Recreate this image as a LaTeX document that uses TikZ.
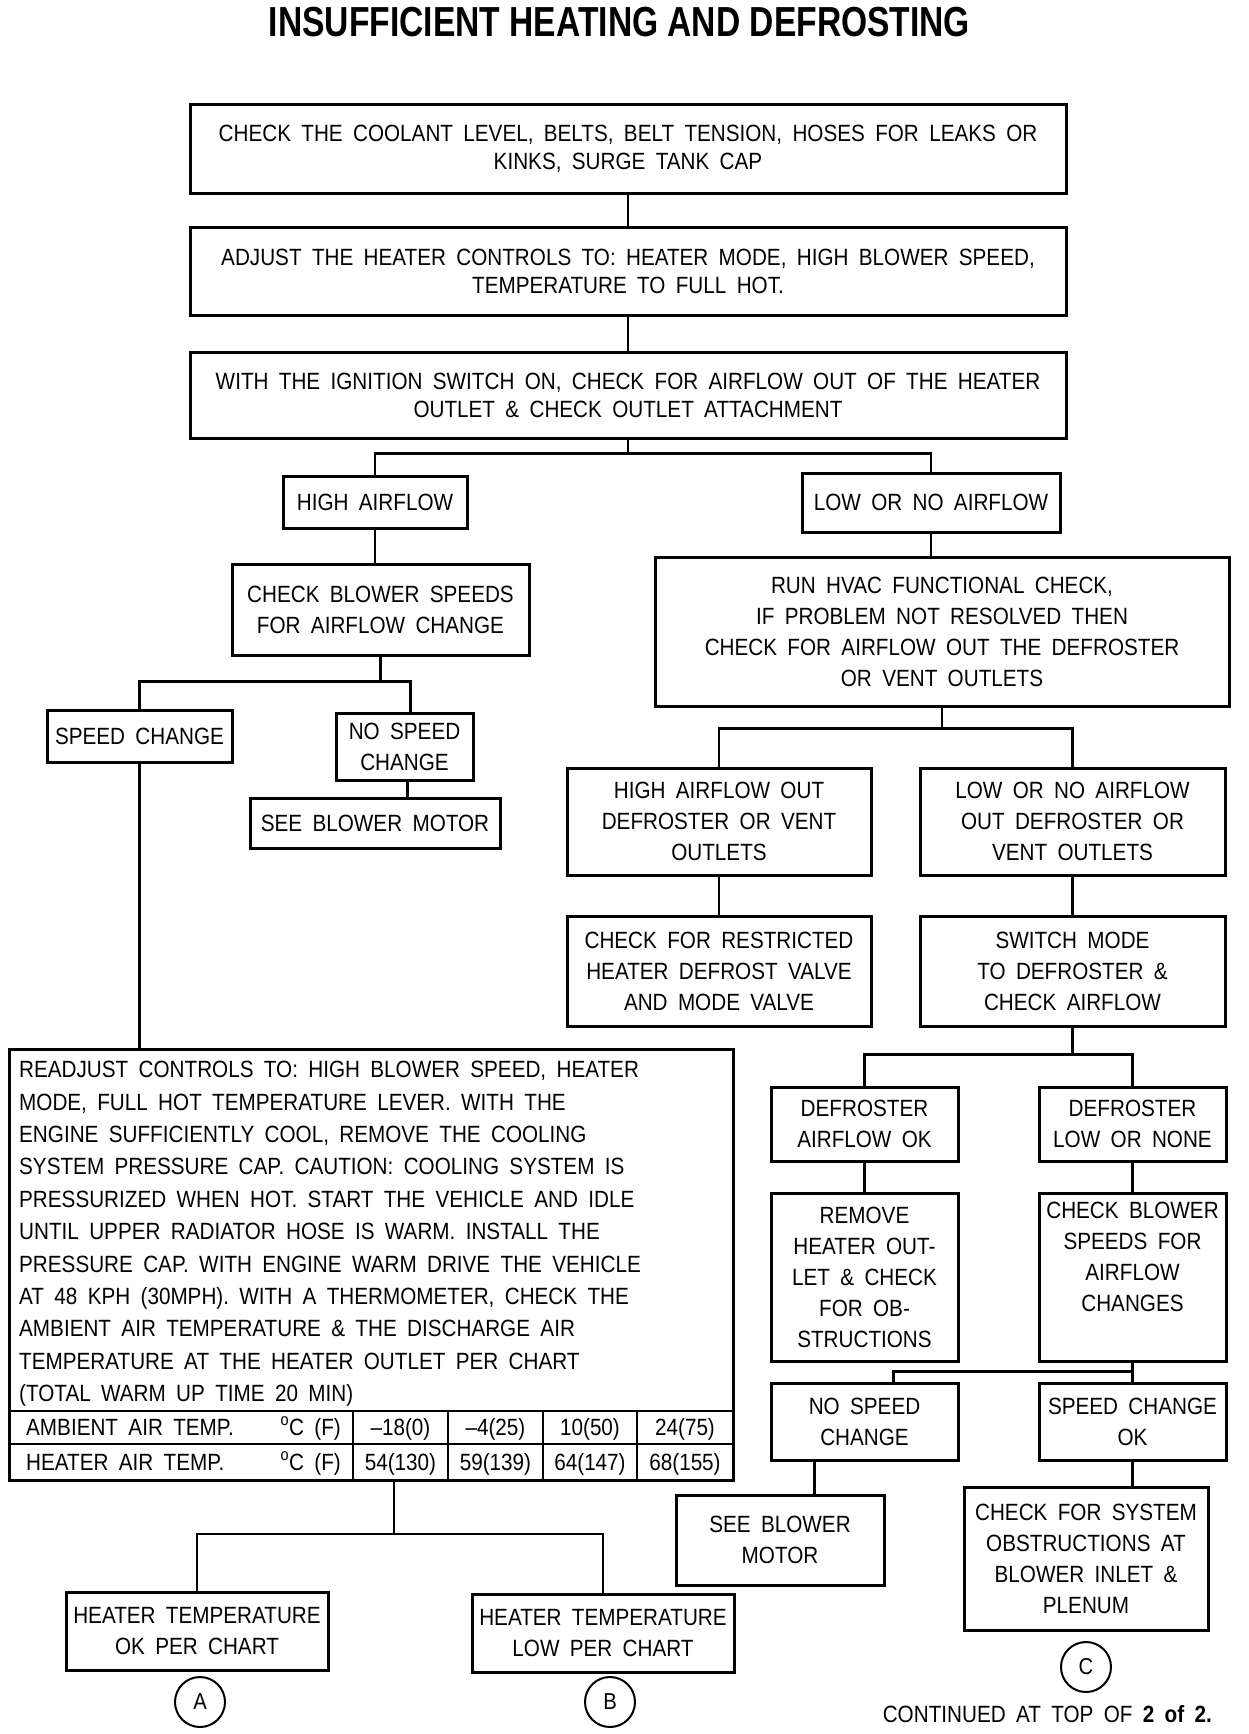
\documentclass[tikz,border=0pt]{standalone}
\usepackage{fontspec}
\setmainfont{Liberation Sans}[FakeStretch=0.88,WordSpace=1.8]
\newfontfamily\titlefont{Liberation Sans}[FakeStretch=0.8]
\newcommand\fbx[7][box]{\node[#1, minimum width={#5-#3}, minimum height={#6-#4}] (#2) at ({(#3+#5)/2},{(#4+#6)/2}) {#7};}
\begin{document}
\begin{tikzpicture}[x=1pt,y=-1pt,
 box/.style={draw,line width=3pt,inner sep=0pt,align=center,font=\fontsize{23.5}{31}\selectfont},
 wbox/.style={box,font=\fontsize{23.5}{28}\selectfont},
 conn/.style={line width=2.8pt},
 lbl/.style={inner sep=0pt,font=\fontsize{23.5}{31}\selectfont},
 ring/.style={draw,circle,line width=2pt,minimum size=50pt,inner sep=0pt,font=\fontsize{23}{28}\selectfont}]
\fill[white] (0,0) rectangle (1248,1734);
\useasboundingbox (0,0) rectangle (1248,1734);

\node[inner sep=0pt,anchor=base,font=\titlefont\bfseries\fontsize{42}{48}\selectfont] (title) at (619.5,37) {INSUFFICIENT HEATING AND DEFROSTING};

\fbx[wbox]{b1}{190}{105}{1066}{193}{CHECK THE COOLANT LEVEL, BELTS, BELT TENSION, HOSES FOR LEAKS OR\\KINKS, SURGE TANK CAP}
\fbx[wbox]{b2}{190}{227}{1066}{315}{ADJUST THE HEATER CONTROLS TO: HEATER MODE, HIGH BLOWER SPEED,\\TEMPERATURE TO FULL HOT.}
\fbx[wbox]{b3}{190}{352}{1066}{438}{WITH THE IGNITION SWITCH ON, CHECK FOR AIRFLOW OUT OF THE HEATER\\OUTLET \& CHECK OUTLET ATTACHMENT}
\fbx{hi}{283}{476}{467}{528}{HIGH AIRFLOW}
\fbx{lo}{802}{473}{1060}{532}{LOW OR NO AIRFLOW}
\fbx{cbs}{232}{564}{529}{655}{CHECK BLOWER SPEEDS\\FOR AIRFLOW CHANGE}
\fbx{run}{655}{557}{1229}{706}{RUN HVAC FUNCTIONAL CHECK,\\IF PROBLEM NOT RESOLVED THEN\\CHECK FOR AIRFLOW OUT THE DEFROSTER\\OR VENT OUTLETS}
\fbx{sc}{47}{710}{232}{762}{SPEED CHANGE}
\fbx{nsc}{336}{713}{473}{780}{NO SPEED\\CHANGE}
\fbx{sbm}{250}{798}{500}{848}{SEE BLOWER MOTOR}
\fbx{hao}{567}{768}{871}{875}{HIGH AIRFLOW OUT\\DEFROSTER OR VENT\\OUTLETS}
\fbx{lnao}{920}{768}{1225}{875}{LOW OR NO AIRFLOW\\OUT DEFROSTER OR\\VENT OUTLETS}
\fbx{crh}{567}{916}{871}{1026}{CHECK FOR RESTRICTED\\HEATER DEFROST VALVE\\AND MODE VALVE}
\fbx{swm}{920}{916}{1225}{1026}{SWITCH MODE\\TO DEFROSTER \&\\CHECK AIRFLOW}
\fbx{dok}{771}{1087}{958}{1161}{DEFROSTER\\AIRFLOW OK}
\fbx{dlow}{1039}{1087}{1226}{1161}{DEFROSTER\\LOW OR NONE}
\fbx{rem}{771}{1193}{958}{1361}{REMOVE\\HEATER OUT-\\LET \& CHECK\\FOR OB-\\STRUCTIONS}
\fbx{cbs2}{1039}{1193}{1226}{1361}{CHECK BLOWER\\SPEEDS FOR\\AIRFLOW\\CHANGES\\\strut}
\fbx{nsc2}{771}{1383}{958}{1460}{NO SPEED\\CHANGE}
\fbx{scok}{1039}{1383}{1226}{1460}{SPEED CHANGE\\OK}
\fbx{sbm2}{676}{1495}{884}{1585}{SEE BLOWER\\MOTOR}
\fbx{cfs}{964}{1487}{1208}{1630}{CHECK FOR SYSTEM\\OBSTRUCTIONS AT\\BLOWER INLET \&\\PLENUM}
\fbx{rd}{9}{1049}{733}{1480}{}
\fbx{okb}{66}{1592}{328}{1670}{HEATER TEMPERATURE\\OK PER CHART}
\fbx{lowb}{472}{1594}{734}{1672}{HEATER TEMPERATURE\\LOW PER CHART}

% readjust text and chart
\node[lbl,anchor=north west,align=left,font=\fontsize{23.5}{32.4}\selectfont] (rdtext) at (19,1061) {READJUST CONTROLS TO: HIGH BLOWER SPEED, HEATER\\
MODE, FULL HOT TEMPERATURE LEVER. WITH THE\\
ENGINE SUFFICIENTLY COOL, REMOVE THE COOLING\\
SYSTEM PRESSURE CAP. CAUTION: COOLING SYSTEM IS\\
PRESSURIZED WHEN HOT. START THE VEHICLE AND IDLE\\
UNTIL UPPER RADIATOR HOSE IS WARM. INSTALL THE\\
PRESSURE CAP. WITH ENGINE WARM DRIVE THE VEHICLE\\
AT 48 KPH (30MPH). WITH A THERMOMETER, CHECK THE\\
AMBIENT AIR TEMPERATURE \& THE DISCHARGE AIR\\
TEMPERATURE AT THE HEATER OUTLET PER CHART\\
(TOTAL WARM UP TIME 20 MIN)};
\coordinate (r1) at (0,1411);
\coordinate (r2) at (0,1444);
\draw[conn] (rd.west |- r1) -- (rd.east |- r1);
\draw[conn] (rd.west |- r2) -- (rd.east |- r2);
\foreach \cx in {353,448,543,637} \draw[conn] (\cx,1411) -- (\cx,1480);
\node[lbl,anchor=base west] (t11) at (26,1435) {AMBIENT AIR TEMP.};
\node[lbl,anchor=base east] (t12) at (341,1435) {\textsuperscript{o}C (F)};
\node[lbl,anchor=base west] (t21) at (26,1470) {HEATER AIR TEMP.};
\node[lbl,anchor=base east] (t22) at (341,1470) {\textsuperscript{o}C (F)};
\node[lbl,anchor=base] (v11) at (400.5,1435) {–18(0)};
\node[lbl,anchor=base] (v12) at (495.5,1435) {–4(25)};
\node[lbl,anchor=base] (v13) at (590,1435) {10(50)};
\node[lbl,anchor=base] (v14) at (685,1435) {24(75)};
\node[lbl,anchor=base] (v21) at (400.5,1470) {54(130)};
\node[lbl,anchor=base] (v22) at (495.5,1470) {59(139)};
\node[lbl,anchor=base] (v23) at (590,1470) {64(147)};
\node[lbl,anchor=base] (v24) at (685,1470) {68(155)};

% circles and note
\node[ring] (cA) at (200,1702) {A};
\node[ring] (cB) at (610,1702) {B};
\node[ring] (cC) at (1086,1667) {C};
\node[lbl,anchor=base east] (cont) at (1212,1722) {CONTINUED AT TOP OF \textbf{2 of 2.}};

% connectors
\draw[conn] (b1.south) -- (b2.north);
\draw[conn] (b2.south) -- (b3.north);
\path (b3.south) ++(0,14) coordinate (j1);
\draw[conn] (b3.south) -- (j1);
\draw[conn] (hi.north) |- (j1) -| (lo.north);
\draw[conn] (hi.south) -- (cbs.north -| hi.south);
\path (cbs.south) ++(0,25) coordinate (j2);
\draw[conn] (cbs.south) -- (j2);
\draw[conn] (sc.north) |- (j2) -| ([xshift=6pt]nsc.north);
\draw[conn] (sc.south) -- (sc.south |- rd.north);
\draw[conn] ([xshift=3pt]nsc.south) -- ([xshift=3pt]nsc.south |- sbm.north);
\draw[conn] (lo.south) -- (lo.south |- run.north);
\path (run.south) ++(0,21) coordinate (j3);
\draw[conn] (run.south) -- (j3);
\draw[conn] (hao.north) |- (j3) -| (lnao.north);
\draw[conn] (hao.south) -- (crh.north);
\draw[conn] (lnao.south) -- (swm.north);
\path (swm.south) ++(0,27) coordinate (j4);
\draw[conn] (swm.south) -- (j4);
\draw[conn] (dok.north) |- (j4) -| (dlow.north);
\draw[conn] (dok.south) -- (rem.north);
\draw[conn] (dlow.south) -- (cbs2.north);
\path (cbs2.south) ++(0,9) coordinate (j5);
\draw[conn] (cbs2.south) -- (scok.north);
\draw[conn] (j5) -| ([xshift=29pt]nsc2.north);
\draw[conn] ([xshift=-50pt]nsc2.south) -- ([xshift=-50pt]nsc2.south |- sbm2.north);
\draw[conn] (scok.south) -- (scok.south |- cfs.north);
\coordinate (jb) at (394,1534);
\draw[conn] (rd.south -| jb) -- (jb);
\draw[conn] (okb.north) |- (jb) -| (lowb.north);
\end{tikzpicture}
\end{document}
